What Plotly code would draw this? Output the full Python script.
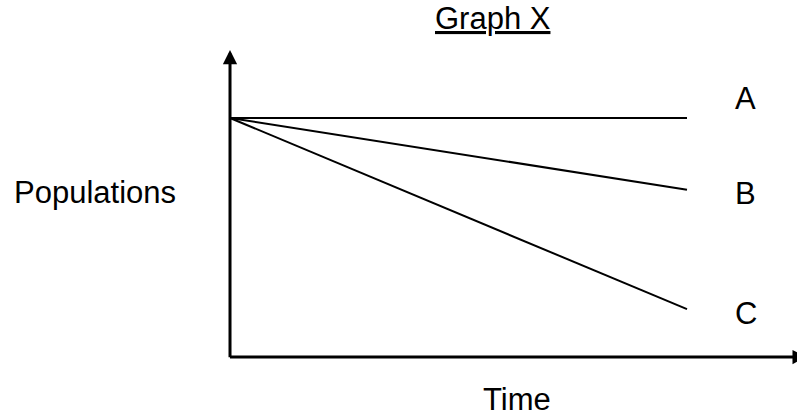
import plotly.graph_objects as go

# ---- data ----
time = [0, 10]
series_names = ["A", "B", "C"]
pop_A = [100, 100]
pop_B = [100, 70]
pop_C = [100, 20]

title_text = "Graph X"
x_label = "Time"
y_label = "Populations"

FONT = "Liberation Sans, Arial, sans-serif"
FS = 31

fig = go.Figure()
for name, vals in zip(series_names, [pop_A, pop_B, pop_C]):
    fig.add_trace(go.Scatter(x=time, y=vals, mode="lines", name=name,
                             line=dict(color="black", width=2), showlegend=False,
                             hoverinfo="skip"))

annotations = []
# axes with arrowheads
annotations.append(dict(x=0, y=128.5, ax=0, ay=-0.7, xref="x", yref="y", axref="x", ayref="y",
                        showarrow=True, arrowhead=2, arrowwidth=3, arrowsize=0.95,
                        arrowcolor="black", text=""))
annotations.append(dict(x=12.62, y=0, ax=-0.033, ay=0, xref="x", yref="y", axref="x", ayref="y",
                        showarrow=True, arrowhead=2, arrowwidth=3, arrowsize=0.95,
                        arrowcolor="black", text=""))

# series labels
label_pos = {"A": 108.3, "B": 68.6, "C": 18.0}
for name in series_names:
    annotations.append(dict(x=11.29, y=label_pos[name], xref="x", yref="y", text=name,
                            showarrow=False, font=dict(family=FONT, size=FS, color="black"),
                            xanchor="center", yanchor="middle"))

annotations.append(dict(x=5.755, y=141.6, xref="x", yref="y", text="<u>" + title_text + "</u>",
                        showarrow=False, font=dict(family=FONT, size=FS, color="black"),
                        xanchor="center", yanchor="middle"))
annotations.append(dict(x=6.28, y=-17.6, xref="x", yref="y", text=x_label,
                        showarrow=False, font=dict(family=FONT, size=FS, color="black"),
                        xanchor="center", yanchor="middle"))
annotations.append(dict(x=-2.95, y=68.8, xref="x", yref="y", text=y_label,
                        showarrow=False, font=dict(family=FONT, size=FS, color="black"),
                        xanchor="center", yanchor="middle"))

fig.update_layout(
    width=797, height=418,
    margin=dict(l=0, r=0, t=0, b=0),
    paper_bgcolor="white", plot_bgcolor="white",
    xaxis=dict(range=[-5.033, 12.407], visible=False, fixedrange=True),
    yaxis=dict(range=[-25.52, 149.37], visible=False, fixedrange=True),
    annotations=annotations,
)

fig.write_html("out.html", config={"displayModeBar": False, "staticPlot": True},
               post_script="document.body.style.margin='0';document.body.style.overflow='hidden';")
